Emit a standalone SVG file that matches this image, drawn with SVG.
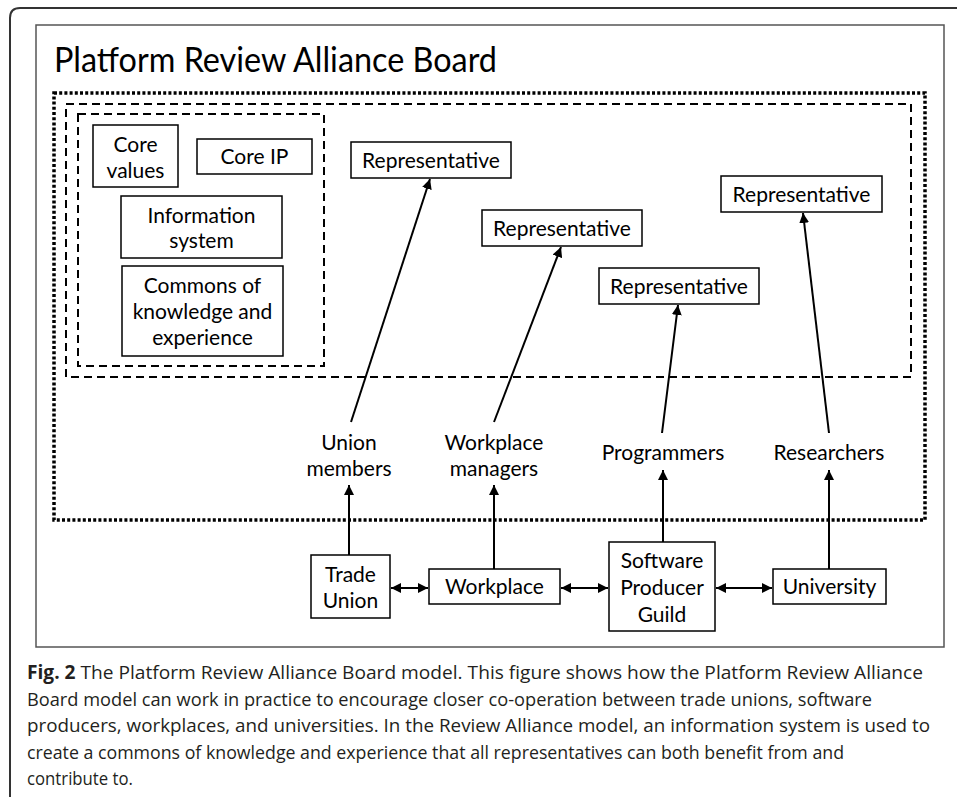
<svg xmlns="http://www.w3.org/2000/svg" width="957" height="797" viewBox="0 0 957 797">
<style>
.box{fill:#fff;stroke:#000;stroke-width:1.5}
.t{font-family:Lato,"Liberation Sans",Arial,sans-serif;font-size:21px;fill:#000;text-anchor:middle}
.title{font-family:Lato,"Liberation Sans",Arial,sans-serif;font-size:34px;fill:#000}
.cap{font-family:"Open Sans","Liberation Sans",Arial,sans-serif;font-size:19px;fill:#231f20}
.ln{stroke:#000;stroke-width:2;fill:none}
.dotted{fill:none;stroke:#000;stroke-width:3.5;stroke-dasharray:3 2.2}
.dashed{fill:none;stroke:#000;stroke-width:2;stroke-dasharray:8 5}
</style>
<defs>
<marker id="ah" viewBox="0 0 10 10" refX="10" refY="5" markerWidth="5" markerHeight="5" orient="auto-start-reverse" markerUnits="strokeWidth">
<path d="M0,0 L10,5 L0,10 Z" fill="#000"/>
</marker>
</defs>
<rect width="957" height="797" fill="#fff"/>
<path d="M10,800 V18 Q10,8 20,8 H960" fill="none" stroke="#333" stroke-width="2"/>
<rect x="36" y="25" width="908" height="622" fill="none" stroke="#555" stroke-width="1.5"/>
<text class="title" x="54" y="72" textLength="443" lengthAdjust="spacingAndGlyphs">Platform Review Alliance Board</text>

<g id="containers">
<rect class="dotted" x="54" y="93" width="871" height="427"/>
<rect class="dashed" x="66" y="104" width="845" height="273"/>
<rect class="dashed" x="78" y="114" width="246" height="252"/>
</g>

<g id="core-values"><rect class="box" x="93" y="125" width="85" height="62"/>
<text class="t" x="135.5" y="152">Core</text>
<text class="t" x="135.5" y="178">values</text></g>
<g id="core-ip"><rect class="box" x="197" y="139" width="115" height="35"/>
<text class="t" x="254.5" y="164">Core IP</text></g>
<g id="information-system"><rect class="box" x="121" y="196" width="161" height="62"/>
<text class="t" x="201.5" y="223">Information</text>
<text class="t" x="201.5" y="248">system</text></g>
<g id="commons"><rect class="box" x="122" y="266" width="161" height="90"/>
<text class="t" x="202.5" y="293">Commons of</text>
<text class="t" x="202.5" y="319">knowledge and</text>
<text class="t" x="202.5" y="345">experience</text></g>

<g id="rep1"><rect class="box" x="351" y="142" width="160" height="36"/>
<text class="t" x="431" y="168">Representative</text></g>
<g id="rep2"><rect class="box" x="482" y="210" width="160" height="36"/>
<text class="t" x="562" y="236">Representative</text></g>
<g id="rep3"><rect class="box" x="599" y="268" width="160" height="36"/>
<text class="t" x="679" y="294">Representative</text></g>
<g id="rep4"><rect class="box" x="721" y="176" width="161" height="36"/>
<text class="t" x="801.5" y="202">Representative</text></g>

<g id="union-members"><text class="t" x="349" y="450">Union</text>
<text class="t" x="349" y="476">members</text></g>
<g id="workplace-managers"><text class="t" x="494" y="450">Workplace</text>
<text class="t" x="494" y="476">managers</text></g>
<g id="programmers"><text class="t" x="663" y="460">Programmers</text></g>
<g id="researchers"><text class="t" x="829" y="460">Researchers</text></g>

<g id="trade-union"><rect class="box" x="311" y="555" width="79" height="63"/>
<text class="t" x="350.5" y="582">Trade</text>
<text class="t" x="350.5" y="608">Union</text></g>
<g id="workplace"><rect class="box" x="429" y="569" width="131" height="35"/>
<text class="t" x="494.5" y="594">Workplace</text></g>
<g id="software-producer-guild"><rect class="box" x="609" y="542" width="106" height="89"/>
<text class="t" x="662" y="568">Software</text>
<text class="t" x="662" y="595">Producer</text>
<text class="t" x="662" y="622">Guild</text></g>
<g id="university"><rect class="box" x="773" y="569" width="113" height="35"/>
<text class="t" x="829.5" y="594">University</text></g>

<g id="connectors">
<line class="ln" x1="351" y1="422" x2="430" y2="179" marker-end="url(#ah)"/>
<line class="ln" x1="494" y1="422" x2="561" y2="247" marker-end="url(#ah)"/>
<line class="ln" x1="662" y1="433" x2="678" y2="305" marker-end="url(#ah)"/>
<line class="ln" x1="829" y1="433" x2="803" y2="213" marker-end="url(#ah)"/>
<line class="ln" x1="349" y1="555" x2="349" y2="485" marker-end="url(#ah)"/>
<line class="ln" x1="494" y1="569" x2="494" y2="485" marker-end="url(#ah)"/>
<line class="ln" x1="663" y1="542" x2="663" y2="470" marker-end="url(#ah)"/>
<line class="ln" x1="829" y1="569" x2="829" y2="470" marker-end="url(#ah)"/>
<line class="ln" x1="391" y1="588" x2="428" y2="588" marker-start="url(#ah)" marker-end="url(#ah)"/>
<line class="ln" x1="561" y1="588" x2="608" y2="588" marker-start="url(#ah)" marker-end="url(#ah)"/>
<line class="ln" x1="716" y1="588" x2="772" y2="588" marker-start="url(#ah)" marker-end="url(#ah)"/>
</g>

<g id="caption">
<text class="cap" x="27" y="679" textLength="896" lengthAdjust="spacingAndGlyphs"><tspan font-weight="bold">Fig. 2</tspan> The Platform Review Alliance Board model. This figure shows how the Platform Review Alliance</text>
<text class="cap" x="27" y="706" textLength="845" lengthAdjust="spacingAndGlyphs">Board model can work in practice to encourage closer co-operation between trade unions, software</text>
<text class="cap" x="27" y="732" textLength="903" lengthAdjust="spacingAndGlyphs">producers, workplaces, and universities. In the Review Alliance model, an information system is used to</text>
<text class="cap" x="27" y="759" textLength="817" lengthAdjust="spacingAndGlyphs">create a commons of knowledge and experience that all representatives can both benefit from and</text>
<text class="cap" x="27" y="785" textLength="106" lengthAdjust="spacingAndGlyphs">contribute to.</text>
</g>
</svg>
